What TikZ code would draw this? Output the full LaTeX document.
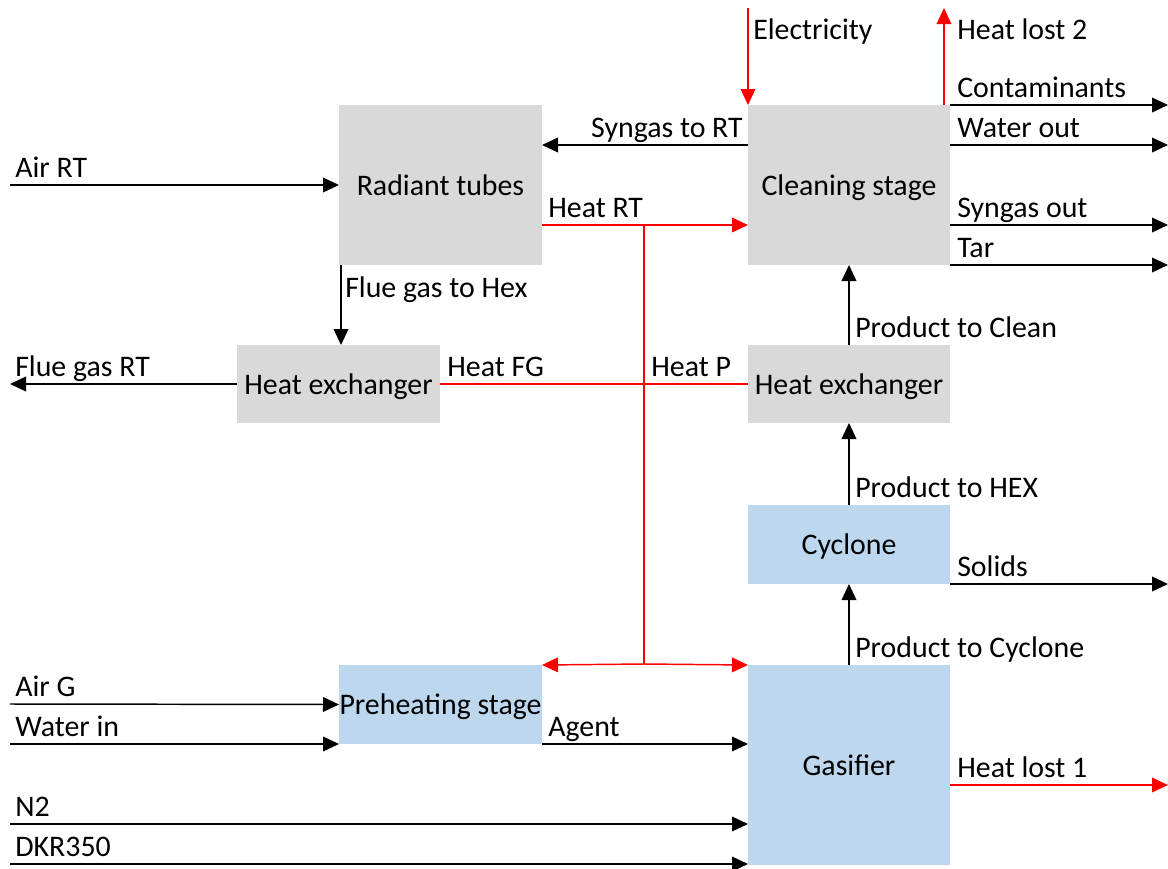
\documentclass[tikz,border=0pt]{standalone}
\usepackage{fontspec}
\setmainfont{Carlito}
\usetikzlibrary{arrows.meta,calc}

\definecolor{unitgray}{HTML}{D9D9D9}
\definecolor{unitblue}{HTML}{BDD7EE}
\definecolor{heatred}{HTML}{FF0000}

\begin{document}
\begin{tikzpicture}[x=0.75pt,y=-0.75pt,
  font=\fontsize{22.4}{26}\selectfont,
  unit/.style={rectangle,inner sep=0pt,outer sep=0pt,align=center,text height=20pt,text depth=5pt},
  grayunit/.style={unit,fill=unitgray},
  blueunit/.style={unit,fill=unitblue},
  flow/.style={draw=black,line width=1.1pt,-{Triangle[length=12pt,width=11pt]}},
  heat/.style={draw=heatred,line width=1.1pt,-{Triangle[length=12pt,width=11pt]}},
  heatline/.style={draw=heatred,line width=1.1pt},
  lbl/.style={anchor=base west,inner sep=0pt},
  lblr/.style={anchor=base east,inner sep=0pt}]

\useasboundingbox (0,0) rectangle (1168,868);

% process units
\node[grayunit,minimum width=152.25pt,minimum height=120pt] (rt)  at (440.5,185) {Radiant tubes};
\node[grayunit,minimum width=151.5pt,minimum height=120pt]  (cs)  at (849,185)   {Cleaning stage};
\node[grayunit,minimum width=152.25pt,minimum height=58.5pt] (hxl) at (338.5,384) {Heat exchanger};
\node[grayunit,minimum width=151.5pt,minimum height=58.5pt]  (hxr) at (849,384)   {Heat exchanger};
\node[blueunit,minimum width=151.5pt,minimum height=59.25pt] (cyc) at (849,544.5) {Cyclone};
\node[blueunit,minimum width=152.25pt,minimum height=59.25pt] (pre) at (440.5,704.5) {Preheating stage};
\node[blueunit,minimum width=151.5pt,minimum height=150pt]   (gas) at (849,765)   {Gasifier};

% free ends of the streams
\coordinate (eElec) at (748,8);
\coordinate (eHL2)  at (944,8);
\coordinate (eCont) at (1168,105);
\coordinate (eWater) at (1168,145);
\coordinate (eSyn)  at (1168,225);
\coordinate (eTar)  at (1168,265);
\coordinate (eSol)  at (1168,584);
\coordinate (eHL1)  at (1168,785);
\coordinate (sAirRT) at (10,185);
\coordinate (eFG)   at (10,384);
\coordinate (sAirG) at (10,704);
\coordinate (sWater) at (10,744);
\coordinate (sN2)   at (10,824);
\coordinate (sDKR)  at (10,864);
\coordinate (jTop)  at (644,225);
\coordinate (jBot)  at (644,664);
\coordinate (fgOut) at ($(rt.south west)+(2,0)$);

% cleaning stage streams
\draw[heat] (eElec) -- (cs.north west);
\draw[heat] ($(cs.north east)+(-6,0)$) -- (eHL2);
\draw[flow] (cs.north east) -- (eCont);
\draw[flow] ($(cs.north east)+(0,40)$) -- (eWater);
\draw[flow] ($(cs.south east)+(0,-40)$) -- (eSyn);
\draw[flow] (cs.south east) -- (eTar);
\draw[flow] ($(cs.north west)+(0,40)$) -- ($(rt.north east)+(0,40)$);

% heat network
\draw[heat] ($(rt.south east)+(0,-40)$) -- ($(cs.south west)+(0,-40)$);
\draw[heatline] (jTop) -- (jBot);
\draw[heatline] (hxl.east) -- (hxr.west);
\draw[heat] (jBot) -- (pre.north east);
\draw[heat] (jBot) -- (gas.north west);
\draw[heat] ($(gas.north east)+(0,120)$) -- (eHL1);

% radiant tubes and flue gas
\draw[flow] (sAirRT) -- (rt.west);
\draw[flow] (fgOut) -- (fgOut |- hxl.north);
\draw[flow] (hxl.west) -- (eFG);

% product train
\draw[flow] (hxr.north) -- (cs.south);
\draw[flow] (cyc.north) -- (hxr.south);
\draw[flow] (gas.north) -- (cyc.south);
\draw[flow] (cyc.south east) -- (eSol);

% feeds
\draw[flow] (sAirG) -- (pre.west);
\draw[flow] (sWater) -- (pre.south west);
\draw[flow] (pre.south east) -- (gas.west |- pre.south);
\draw[flow] (sN2) -- (gas.west |- sN2);
\draw[flow] (sDKR) -- (gas.west |- sDKR);

% stream labels
\node[lbl] (tElec) at (753,39) {Electricity};
\node[lbl] (tHL2) at (957,39) {Heat lost 2};
\node[lbl] (tCont) at (957,97) {Contaminants};
\node[lbl] (tWater) at (957,137) {Water out};
\node[lblr] (tSynRT) at (743,137) {Syngas to RT};
\node[lbl] (tSyn) at (957,217) {Syngas out};
\node[lbl] (tTar) at (957,257) {Tar};
\node[lbl] (tHRT) at (548,217) {Heat RT};
\node[lbl] (tAirRT) at (15,177) {Air RT};
\node[lbl] (tFGH) at (345,297) {Flue gas to Hex};
\node[lbl] (tFG) at (15,376) {Flue gas RT};
\node[lbl] (tHFG) at (447,376) {Heat FG};
\node[lbl] (tHP) at (651,376) {Heat P};
\node[lbl] (tPC) at (855,337) {Product to Clean};
\node[lbl] (tPH) at (855,497) {Product to HEX};
\node[lbl] (tSol) at (957,576) {Solids};
\node[lbl] (tPCy) at (855,657) {Product to Cyclone};
\node[lbl] (tAirG) at (15,696) {Air G};
\node[lbl] (tWin) at (15,736) {Water in};
\node[lbl] (tAg) at (548,736) {Agent};
\node[lbl] (tN2) at (15,816) {N2};
\node[lbl] (tDKR) at (15,856) {DKR350};
\node[lbl] (tHL1) at (957,777) {Heat lost 1};
\end{tikzpicture}
\end{document}
